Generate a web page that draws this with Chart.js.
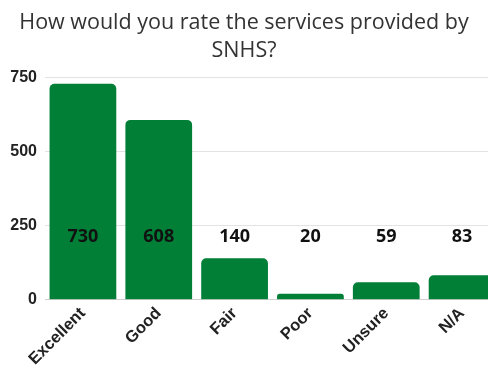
<!DOCTYPE html>
<html>
<head>
<meta charset="utf-8">
<script src="https://cdn.jsdelivr.net/npm/chart.js@4.4.1/dist/chart.umd.min.js"></script>
<style>
  html, body { margin: 0; padding: 0; background: #fff; overflow: hidden; }
  #wrap { width: 488px; height: 375px; overflow: hidden; }
</style>
</head>
<body>
<div id="wrap"><canvas id="chart" width="500" height="375"></canvas></div>
<script>
const categories = ['Excellent', 'Good', 'Fair', 'Poor', 'Unsure', 'N/A'];
const responses = [730, 608, 140, 20, 59, 83];
const yTicks = [0, 250, 500, 750];
const labelLevel = 212; // value labels sit on one line across the chart

const barGreen = '#017f36';

// draws the counts on a single row, centred on each bar
const valueLabels = {
    id: 'valueLabels',
    afterLayout(chart) {
        // canvas is wider than the page, keep the title centred on what is visible
        if (chart.titleBlock) {
            chart.titleBlock.left -= 6;
            chart.titleBlock.right -= 6;
        }
    },
    afterDatasetsDraw(chart) {
        const ctx = chart.ctx;
        const meta = chart.getDatasetMeta(0);
        const y = chart.scales.y.getPixelForValue(labelLevel);
        ctx.save();
        ctx.font = 'bold 18px "Open Sans"';
        ctx.fillStyle = '#111';
        ctx.textAlign = 'center';
        ctx.textBaseline = 'middle';
        meta.data.forEach((bar, i) => {
            ctx.fillText(String(responses[i]), bar.x, y);
        });
        ctx.restore();
    }
};

new Chart(document.getElementById('chart'), {
    type: 'bar',
    data: {
        labels: categories,
        datasets: [{
            data: responses,
            backgroundColor: barGreen,
            borderRadius: { topLeft: 5, topRight: 5 },
            borderSkipped: 'bottom',
            barPercentage: 0.88,
            categoryPercentage: 1
        }]
    },
    options: {
        responsive: false,
        animation: false,
        layout: { padding: { left: 0, right: 0, top: 9, bottom: 2 } },
        plugins: {
            legend: { display: false },
            tooltip: { enabled: false },
            title: {
                display: true,
                text: ['How would you rate the services provided by', 'SNHS?'],
                color: '#333',
                font: { family: '"Open Sans"', size: 21.5, weight: 'normal', lineHeight: 1.3 },
                padding: { top: 0, bottom: 13 }
            }
        },
        scales: {
            x: {
                grid: { display: false, drawTicks: false },
                border: { color: '#d0d0d0' },
                ticks: {
                    color: '#222',
                    font: { family: '"Liberation Sans"', size: 16.5, weight: 'bold' },
                    maxRotation: 45,
                    minRotation: 45,
                    padding: 4
                }
            },
            y: {
                min: 0,
                max: 750,
                afterBuildTicks(scale) {
                    scale.ticks = yTicks.map(v => ({ value: v }));
                },
                afterFit(scale) {
                    scale.width = 45;
                },
                grid: { color: '#e3e3e3', drawTicks: false },
                border: { display: false },
                ticks: {
                    color: '#222',
                    font: { family: '"Liberation Sans"', size: 16, weight: 'bold' },
                    padding: 8
                }
            }
        }
    },
    plugins: [valueLabels]
});
</script>
</body>
</html>
